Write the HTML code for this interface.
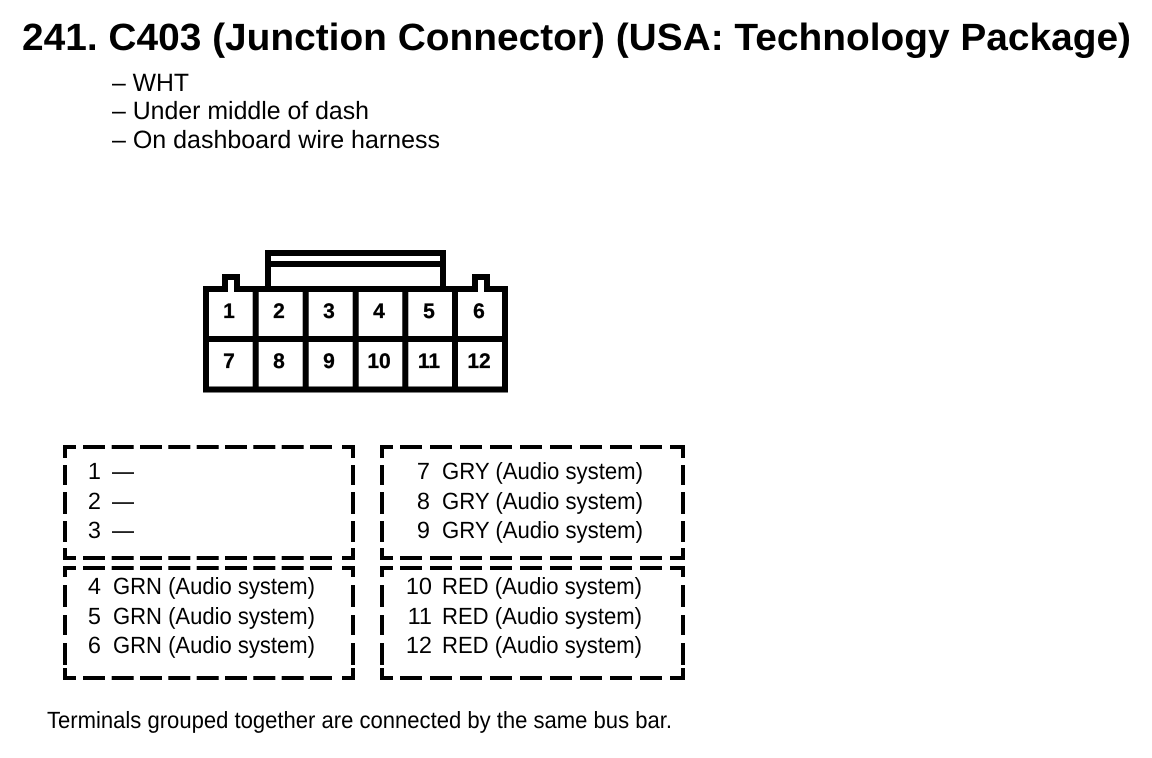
<!DOCTYPE html>
<html><head><meta charset="utf-8"><style>
html,body{margin:0;padding:0;background:#fff;width:1152px;height:758px;overflow:hidden}
svg{display:block}
text{font-family:"Liberation Sans",sans-serif;fill:#000;text-rendering:geometricPrecision}
.b{font-size:25px}
.t{font-size:23.5px}
.d{fill:none;stroke:#000;stroke-width:4}
</style></head><body>
<svg width="1152" height="758" viewBox="0 0 1152 758" xmlns="http://www.w3.org/2000/svg">
<defs>
<path id="a" d="M83 0h22M111.7 0h22M140 0h22M168.3 0h22M196.7 0h22M225 0h22M253.3 0h22M281.7 0h22M310 0h22"/>
<path id="b" d="M400 0h22M430 0h22M460 0h22M490 0h22M520 0h22M550 0h22M580 0h22M610 0h22M640 0h22"/>
<path id="c" d="M0 465v20M0 492v22M0 521v21"/>
<path id="e" d="M0 585v22M0 615v20M0 643v22"/>
</defs>
<text x="22" y="50" font-size="38" font-weight="bold" textLength="1109" lengthAdjust="spacingAndGlyphs">241. C403 (Junction Connector) (USA: Technology Package)</text>
<text class="b" x="112" y="91" textLength="77" lengthAdjust="spacingAndGlyphs">– WHT</text>
<text class="b" x="112" y="119" textLength="257" lengthAdjust="spacingAndGlyphs">– Under middle of dash</text>
<text class="b" x="112" y="148" textLength="328" lengthAdjust="spacingAndGlyphs">– On dashboard wire harness</text>

<g fill="none" stroke="#000" stroke-width="6" stroke-linejoin="miter">
<path d="M268 289V253H443V289M268 264H443"/>
<path d="M206 289H225V277H237V289H475V277H487V289H505V389.5H206Z"/>
<path d="M255.7 289V389.5M305.7 289V389.5M355.7 289V389.5M405.3 289V389.5M455 289V389.5M206 339H505"/>
</g>
<rect x="228" y="280" width="6" height="12" fill="#fff"/>
<rect x="478" y="280" width="6" height="12" fill="#fff"/>
<g text-anchor="middle" font-size="21" font-weight="bold" stroke="#000" stroke-width="0.3">
<text x="229" y="318">1</text><text x="279" y="318">2</text><text x="329" y="318">3</text><text x="379" y="318">4</text><text x="429" y="318">5</text><text x="479" y="318">6</text>
<text x="229" y="368">7</text><text x="279" y="368">8</text><text x="329" y="368">9</text><text x="379" y="368">10</text><text x="429" y="368">11</text><text x="479" y="368">12</text>
</g>

<g class="d">
<use href="#a" y="447"/><use href="#a" y="558"/><use href="#a" y="568"/><use href="#a" y="678"/>
<use href="#b" y="447"/><use href="#b" y="558"/><use href="#b" y="568"/><use href="#b" y="678"/>
<use href="#c" x="65"/><use href="#c" x="353"/><use href="#c" x="382"/><use href="#c" x="683"/>
<use href="#e" x="65"/><use href="#e" x="353"/><use href="#e" x="382"/><use href="#e" x="683"/>
<path d="M65 458V447H76M342 447H353V458M65 548V558H76M342 558H353V548M65 577V568H76M342 568H353V577M65 668V678H76M342 678H353V668"/>
<path d="M382 458V447H393M670 447H683V458M382 548V558H393M670 558H683V548M382 577V568H393M670 568H683V577M382 668V678H393M670 678H683V668"/>
</g>

<g class="t" text-anchor="end">
<text x="101" y="479">1</text><text x="101" y="509">2</text><text x="101" y="538">3</text>
<text x="101" y="594">4</text><text x="101" y="624">5</text><text x="101" y="653">6</text>
<text x="430" y="479">7</text><text x="430" y="509">8</text><text x="430" y="538">9</text>
<text x="432" y="594">10</text><text x="432" y="624">11</text><text x="432" y="653">12</text>
</g>
<g class="t">
<text x="112" y="479" textLength="22" lengthAdjust="spacingAndGlyphs">—</text><text x="112" y="509" textLength="22" lengthAdjust="spacingAndGlyphs">—</text><text x="112" y="538" textLength="22" lengthAdjust="spacingAndGlyphs">—</text>
<text x="113" y="594" textLength="202" lengthAdjust="spacingAndGlyphs">GRN (Audio system)</text>
<text x="113" y="624" textLength="202" lengthAdjust="spacingAndGlyphs">GRN (Audio system)</text>
<text x="113" y="653" textLength="202" lengthAdjust="spacingAndGlyphs">GRN (Audio system)</text>
<text x="442" y="479" textLength="201" lengthAdjust="spacingAndGlyphs">GRY (Audio system)</text>
<text x="442" y="509" textLength="201" lengthAdjust="spacingAndGlyphs">GRY (Audio system)</text>
<text x="442" y="538" textLength="201" lengthAdjust="spacingAndGlyphs">GRY (Audio system)</text>
<text x="442" y="594" textLength="200" lengthAdjust="spacingAndGlyphs">RED (Audio system)</text>
<text x="442" y="624" textLength="200" lengthAdjust="spacingAndGlyphs">RED (Audio system)</text>
<text x="442" y="653" textLength="200" lengthAdjust="spacingAndGlyphs">RED (Audio system)</text>
<text x="47" y="728" textLength="625" lengthAdjust="spacingAndGlyphs">Terminals grouped together are connected by the same bus bar.</text>
</g>
</svg></body></html>
